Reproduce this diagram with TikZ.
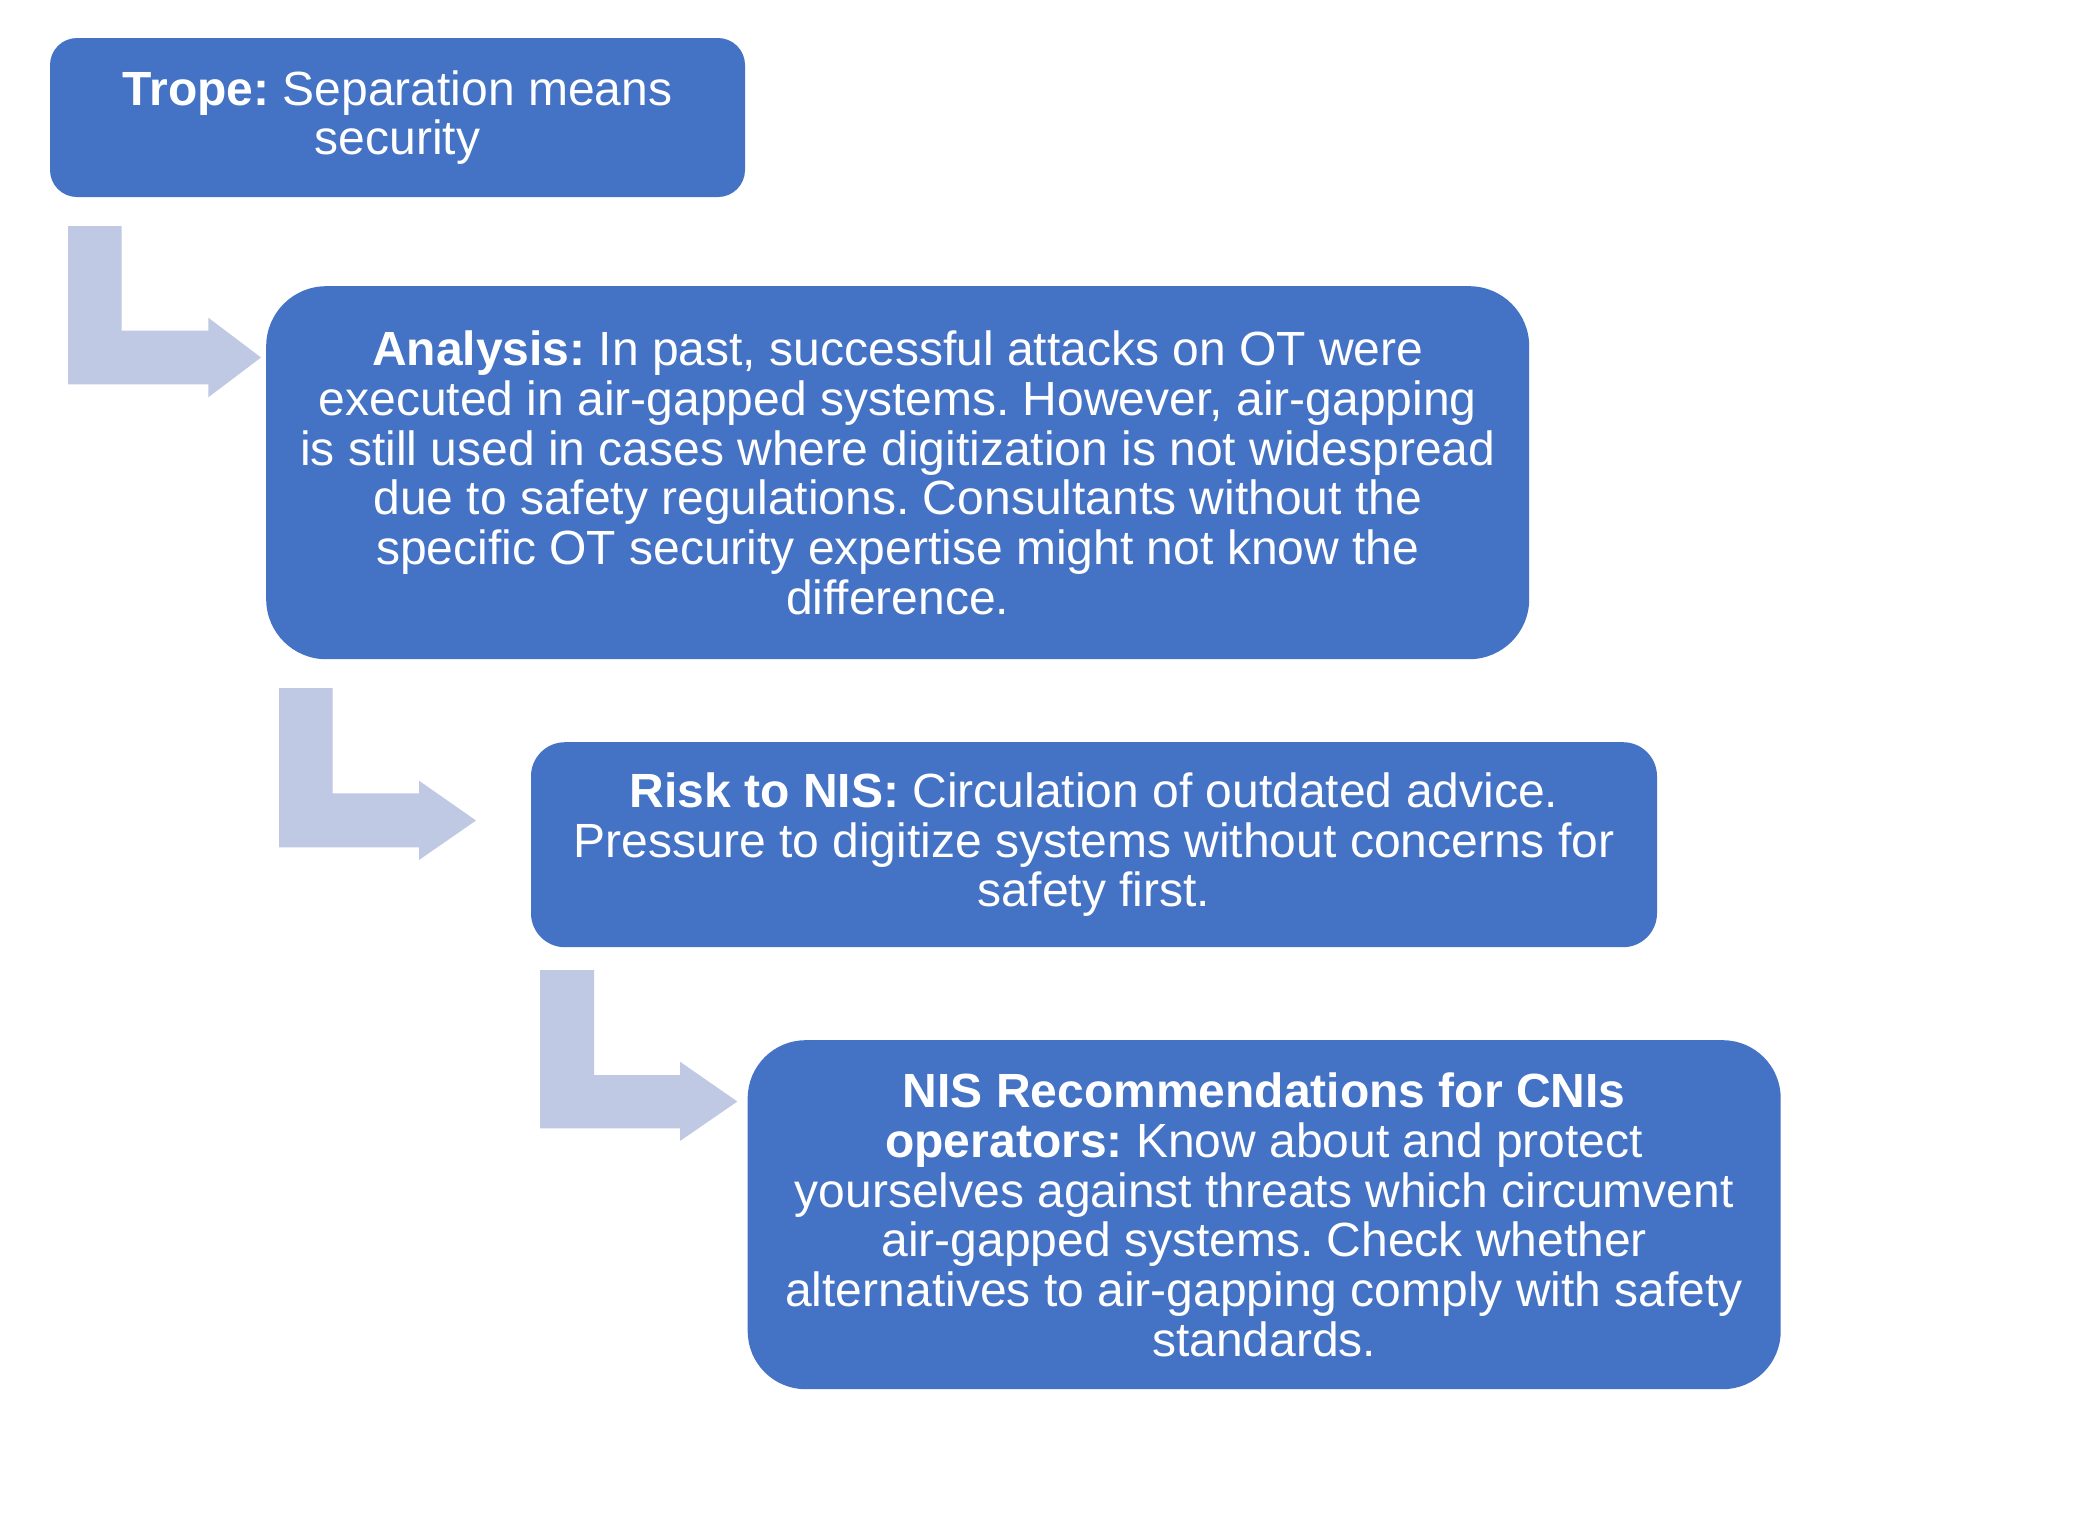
\documentclass[tikz,border=0pt]{standalone}
\usepackage{fontspec}
\setmainfont{Liberation Sans}
\definecolor{boxblue}{RGB}{68,114,196}
\definecolor{arrowblue}{RGB}{191,201,228}
\begin{document}
\frenchspacing
\begin{tikzpicture}[x=0.5pt,y=-0.5pt,
  box/.style={fill=boxblue, draw=none, inner sep=0pt, outer sep=0pt, align=center,
    text=white, font=\fontsize{24pt}{24.85pt}\selectfont},
  bentarrow/.style={fill=arrowblue, draw=none}]
\fill[white] (0,0) rectangle (2085,1521);
\useasboundingbox (0,0) rectangle (2085,1521);

\node[box, minimum width=347.5pt, minimum height=79.5pt, rounded corners=13.5pt] (trope) at (397.5,117.5)
  {\textbf{Trope:} Separation means\\security};
\node[box, minimum width=631.5pt, minimum height=186.5pt, rounded corners=30pt] (analysis) at (897.7,472.7)
  {\textbf{Analysis:} In past, successful attacks on OT were\\
   executed in air-gapped systems. However, air-gapping\\
   is still used in cases where digitization is not widespread\\
   due to safety regulations. Consultants without the\\
   specific OT security expertise might not know the\\
   difference.};
\node[box, minimum width=563pt, minimum height=102.5pt, rounded corners=17pt] (risk) at (1094,844.7)
  {\textbf{Risk to NIS:} Circulation of outdated advice.\\
   Pressure to digitize systems without concerns for\\
   safety first.};
\node[box, minimum width=516.5pt, minimum height=174.5pt, rounded corners=29pt] (recs) at (1264.2,1214.7)
  {\textbf{NIS Recommendations for CNIs}\\
   \textbf{operators:} Know about and protect\\
   yourselves against threats which circumvent\\
   air-gapped systems. Check whether\\
   alternatives to air-gapping comply with safety\\
   standards.};

\fill[bentarrow] (68,226) -- (121.7,226) -- (121.7,330.7) -- (208.3,330.7) -- (208.3,317.7)
  -- (261,357.5) -- (208.3,397.3) -- (208.3,384.3) -- (68,384.3) -- cycle;
\fill[bentarrow] (279,688) -- (332.7,688) -- (332.7,793.3) -- (419,793.3) -- (419,780.7)
  -- (476,820.5) -- (419,860) -- (419,847.3) -- (279,847.3) -- cycle;
\fill[bentarrow] (540,970) -- (594,970) -- (594,1075) -- (680,1075) -- (680,1061.7)
  -- (737.3,1101.5) -- (680,1141) -- (680,1128.3) -- (540,1128.3) -- cycle;
\end{tikzpicture}
\end{document}
